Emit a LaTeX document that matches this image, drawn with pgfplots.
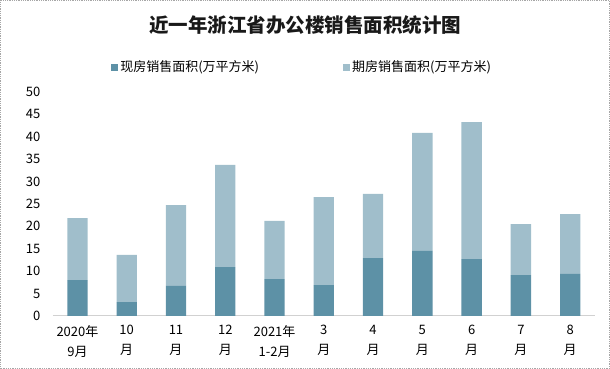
\documentclass[border=0pt]{standalone}
\usepackage{fontspec}
\setmainfont{Noto Sans CJK SC}
\usepackage{pgfplots}
\pgfplotsset{compat=1.18}
\definecolor{darkbar}{RGB}{93,145,166}
\definecolor{lightbar}{RGB}{160,190,203}
\begin{document}
\begin{tikzpicture}
\useasboundingbox (0,0) rectangle (610pt,369pt);
\draw[gray!70, densely dotted, line width=0.8pt] (0.5pt,0.5pt) rectangle (609.5pt,368.5pt);
\node[font=\fontsize{19.5}{22}\selectfont\bfseries, text=black!90] at (305pt,344pt) {近一年浙江省办公楼销售面积统计图};
\begin{axis}[
  at={(52.8pt,53pt)}, anchor=south west,
  scale only axis, width=542pt, height=224.3pt,
  ybar stacked, bar width=20.3pt,
  xmin=-0.5, xmax=10.5, ymin=0, ymax=50,
  ytick={0,5,...,50},
  xtick={0,...,10},
  xticklabels={{2020年\\9月},{10\\月},{11\\月},{12\\月},{2021年\\1-2月},{3\\月},{4\\月},{5\\月},{6\\月},{7\\月},{8\\月}},
  xticklabel style={align=center, font=\fontsize{13}{20}\selectfont, yshift=-6pt},
  yticklabel style={font=\fontsize{13}{15}\selectfont, xshift=-9pt},
  /pgf/number format/assume math mode=true,
  major tick length=0pt,
  axis x line*=bottom, axis y line*=left,
  y axis line style={draw=none},
  x axis line style={draw=black!18, line width=1pt, -},
  legend columns=2,
  legend style={at={(0.46,1.11)}, anchor=center, draw=none, fill=none,
    font=\fontsize{13}{15}\selectfont,
    /tikz/every even column/.append style={column sep=82pt}},
  legend image code/.code={\fill[#1] (0pt,-3.5pt) rectangle (7pt,3.5pt);},
]
\addplot[fill=darkbar, draw=none] coordinates {(0,8.0) (1,3.1) (2,6.7) (3,10.9) (4,8.2) (5,6.9) (6,12.9) (7,14.5) (8,12.7) (9,9.1) (10,9.4)};
\addplot[fill=lightbar, draw=none] coordinates {(0,13.8) (1,10.5) (2,18.0) (3,22.8) (4,13.0) (5,19.6) (6,14.3) (7,26.3) (8,30.5) (9,11.4) (10,13.3)};
\legend{现房销售面积(万平方米),期房销售面积(万平方米)}
\end{axis}
\end{tikzpicture}
\end{document}
